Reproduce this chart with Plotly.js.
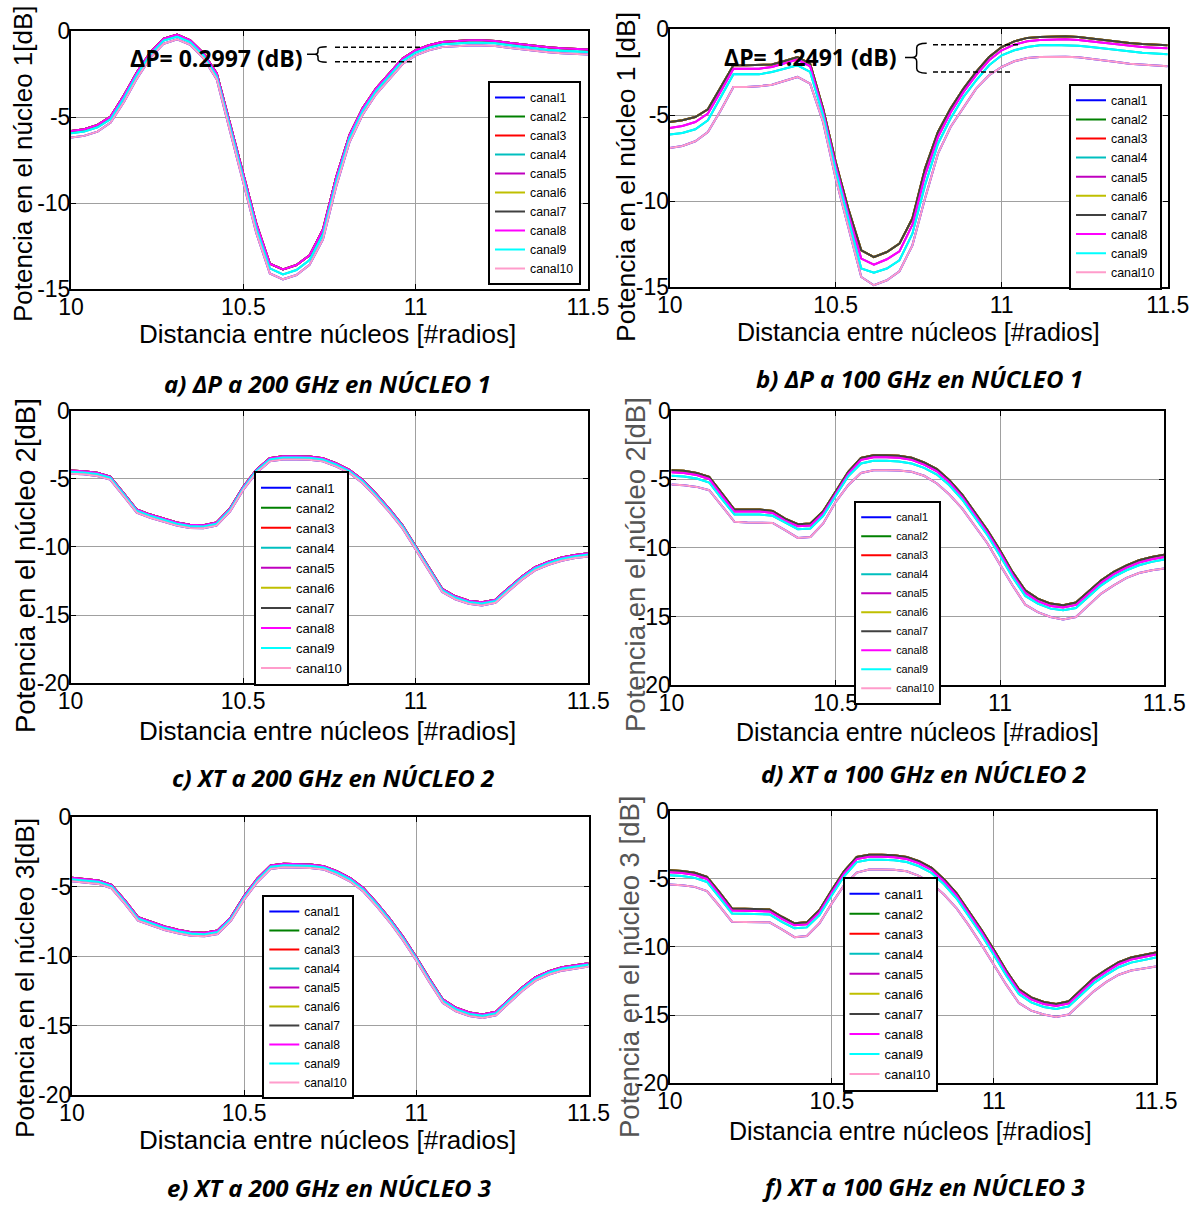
<!DOCTYPE html>
<html>
<head>
<meta charset="utf-8">
<script src="https://cdn.plot.ly/plotly-3.0.1.min.js"></script>
<style>html,body{margin:0;padding:0;background:#fff;}#g{width:1195px;height:1205px;}</style>
</head>
<body>
<div id="g"></div>
<script>
// ---------------- data ----------------
const distancia = [10.000,10.038,10.077,10.115,10.154,10.192,10.231,10.269,10.308,10.346,10.385,10.423,10.462,10.500,10.538,10.577,10.615,10.654,10.692,10.731,10.769,10.808,10.846,10.885,10.923,10.962,11.000,11.038,11.077,11.115,11.154,11.192,11.231,11.269,11.308,11.346,11.385,11.423,11.462,11.500];
const canales = ['canal1','canal2','canal3','canal4','canal5','canal6','canal7','canal8','canal9','canal10'];
// which visible curve each channel follows (curves overlap in the picture)
const grupoCanal = ['inf','sup','sup','cian','mag','sup','sup','mag','cian','inf'];

const ticksX = [10, 10.5, 11, 11.5];
const etiquetasX = ['10', '10.5', '11', '11.5'];
const ticksY15 = [0, -5, -10, -15];
const etiquetasY15 = ['0', '-5', '-10', '-15'];
const ticksY20 = [0, -5, -10, -15, -20];
const etiquetasY20 = ['0', '-5', '-10', '-15', '-20'];

// a) ΔP 200 GHz núcleo 1
const a_sup = [-5.79,-5.69,-5.44,-4.96,-3.70,-2.36,-1.20,-0.42,-0.19,-0.52,-1.29,-2.45,-5.40,-8.30,-11.20,-13.51,-13.84,-13.59,-13.03,-11.52,-8.50,-6.02,-4.48,-3.32,-2.45,-1.58,-1.10,-0.81,-0.62,-0.56,-0.52,-0.52,-0.56,-0.66,-0.75,-0.85,-0.93,-0.98,-1.02,-1.06];
const a_cian = [-5.93,-5.83,-5.58,-5.10,-3.86,-2.50,-1.33,-0.53,-0.30,-0.63,-1.42,-2.62,-5.60,-8.50,-11.45,-13.78,-14.13,-13.88,-13.30,-11.80,-8.75,-6.20,-4.63,-3.46,-2.58,-1.72,-1.23,-0.95,-0.76,-0.70,-0.66,-0.66,-0.70,-0.80,-0.90,-1.00,-1.08,-1.13,-1.17,-1.21];
const a_inf = [-6.18,-6.08,-5.83,-5.31,-4.10,-2.72,-1.52,-0.72,-0.46,-0.78,-1.58,-2.80,-5.85,-8.75,-11.75,-14.08,-14.42,-14.17,-13.58,-12.10,-9.05,-6.45,-4.85,-3.66,-2.77,-1.90,-1.40,-1.11,-0.92,-0.86,-0.83,-0.83,-0.86,-0.95,-1.04,-1.14,-1.22,-1.27,-1.31,-1.35];

// b) ΔP 100 GHz núcleo 1
const b_sup = [-5.39,-5.29,-5.10,-4.65,-3.35,-2.09,-2.09,-2.09,-2.05,-1.84,-1.61,-2.00,-4.61,-7.71,-10.43,-12.85,-13.24,-12.95,-12.46,-11.00,-8.10,-5.97,-4.61,-3.45,-2.48,-1.61,-1.03,-0.70,-0.50,-0.45,-0.41,-0.41,-0.45,-0.54,-0.64,-0.74,-0.79,-0.85,-0.89,-0.93];
const b_mag = [-5.74,-5.62,-5.39,-4.90,-3.60,-2.29,-2.29,-2.29,-2.19,-2.00,-1.76,-2.15,-4.77,-7.91,-10.72,-13.33,-13.68,-13.37,-12.91,-11.36,-8.49,-6.26,-4.84,-3.64,-2.67,-1.80,-1.22,-0.89,-0.70,-0.62,-0.58,-0.58,-0.62,-0.70,-0.79,-0.89,-0.97,-1.03,-1.07,-1.10];
const b_cian = [-6.12,-6.03,-5.81,-5.29,-3.93,-2.62,-2.62,-2.62,-2.48,-2.29,-2.09,-2.48,-5.00,-8.20,-11.00,-13.91,-14.15,-13.91,-13.43,-11.88,-9.07,-6.65,-5.19,-3.93,-2.97,-2.09,-1.51,-1.22,-1.03,-0.93,-0.91,-0.91,-0.95,-1.03,-1.12,-1.22,-1.30,-1.36,-1.41,-1.45];
const b_inf = [-6.90,-6.78,-6.51,-5.97,-4.71,-3.35,-3.35,-3.31,-3.22,-3.00,-2.77,-3.16,-5.39,-8.68,-11.59,-14.40,-14.88,-14.59,-14.07,-12.56,-9.84,-7.23,-5.68,-4.52,-3.45,-2.67,-2.19,-1.86,-1.67,-1.61,-1.59,-1.59,-1.63,-1.71,-1.80,-1.90,-2.00,-2.05,-2.11,-2.15];

// c) XT 200 GHz núcleo 2
const c_sup = [-4.40,-4.45,-4.57,-4.84,-6.05,-7.26,-7.63,-7.94,-8.21,-8.38,-8.41,-8.21,-7.19,-5.61,-4.35,-3.50,-3.36,-3.36,-3.38,-3.50,-3.87,-4.35,-5.08,-6.10,-7.19,-8.41,-9.98,-11.56,-13.07,-13.62,-13.94,-14.06,-13.87,-13.02,-12.17,-11.49,-11.08,-10.78,-10.59,-10.47];
const c_cian = [-4.49,-4.54,-4.66,-4.93,-6.14,-7.35,-7.72,-8.03,-8.30,-8.47,-8.50,-8.30,-7.28,-5.70,-4.44,-3.59,-3.45,-3.45,-3.47,-3.59,-3.96,-4.44,-5.17,-6.19,-7.28,-8.50,-10.07,-11.65,-13.16,-13.71,-14.03,-14.15,-13.96,-13.11,-12.26,-11.58,-11.17,-10.87,-10.68,-10.56];
const c_inf = [-4.63,-4.68,-4.80,-5.07,-6.28,-7.49,-7.86,-8.17,-8.44,-8.61,-8.64,-8.44,-7.42,-5.84,-4.58,-3.73,-3.59,-3.59,-3.61,-3.73,-4.10,-4.58,-5.31,-6.33,-7.42,-8.64,-10.21,-11.79,-13.30,-13.85,-14.17,-14.29,-14.10,-13.25,-12.40,-11.72,-11.31,-11.01,-10.82,-10.70];

// d) XT 100 GHz núcleo 2
const d_sup = [-4.33,-4.38,-4.53,-4.82,-6.03,-7.20,-7.20,-7.20,-7.30,-7.86,-8.27,-8.22,-7.32,-5.91,-4.45,-3.43,-3.24,-3.24,-3.28,-3.43,-3.77,-4.26,-5.06,-6.11,-7.37,-8.71,-10.17,-11.75,-13.09,-13.70,-14.06,-14.18,-13.99,-13.21,-12.36,-11.75,-11.27,-10.90,-10.66,-10.49];
const d_mag = [-4.48,-4.53,-4.68,-4.97,-6.18,-7.35,-7.35,-7.35,-7.45,-8.01,-8.42,-8.37,-7.47,-6.06,-4.60,-3.58,-3.39,-3.39,-3.43,-3.58,-3.92,-4.41,-5.21,-6.27,-7.53,-8.88,-10.34,-11.93,-13.27,-13.88,-14.24,-14.35,-14.16,-13.38,-12.53,-11.92,-11.44,-11.07,-10.83,-10.66];
const d_cian = [-4.74,-4.79,-4.94,-5.23,-6.45,-7.57,-7.57,-7.57,-7.66,-8.15,-8.64,-8.59,-7.66,-6.20,-4.77,-3.84,-3.65,-3.65,-3.70,-3.84,-4.16,-4.65,-5.43,-6.47,-7.74,-9.08,-10.58,-12.12,-13.50,-14.06,-14.43,-14.55,-14.38,-13.58,-12.73,-12.12,-11.63,-11.27,-11.02,-10.85];
const d_inf = [-5.38,-5.43,-5.55,-5.79,-6.95,-8.10,-8.15,-8.15,-8.18,-8.70,-9.27,-9.20,-8.22,-6.64,-5.43,-4.53,-4.33,-4.33,-4.35,-4.45,-4.74,-5.30,-6.11,-7.13,-8.35,-9.68,-11.22,-12.73,-14.14,-14.68,-15.04,-15.23,-15.04,-14.18,-13.33,-12.73,-12.19,-11.83,-11.63,-11.51];

// e) XT 200 GHz núcleo 3
const e_sup = [-4.36,-4.43,-4.55,-4.86,-5.99,-7.19,-7.55,-7.86,-8.10,-8.27,-8.32,-8.15,-7.19,-5.68,-4.43,-3.47,-3.35,-3.35,-3.40,-3.52,-3.88,-4.38,-5.10,-6.16,-7.31,-8.63,-10.07,-11.63,-13.11,-13.71,-14.05,-14.19,-14.00,-13.11,-12.23,-11.51,-11.07,-10.79,-10.62,-10.50];
const e_cian = [-4.46,-4.53,-4.65,-4.96,-6.09,-7.29,-7.65,-7.96,-8.20,-8.37,-8.42,-8.25,-7.29,-5.78,-4.53,-3.57,-3.45,-3.45,-3.50,-3.62,-3.98,-4.48,-5.20,-6.26,-7.41,-8.73,-10.17,-11.73,-13.21,-13.81,-14.15,-14.29,-14.10,-13.21,-12.33,-11.61,-11.17,-10.89,-10.72,-10.60];
const e_inf = [-4.61,-4.68,-4.80,-5.11,-6.24,-7.44,-7.80,-8.11,-8.35,-8.52,-8.57,-8.40,-7.44,-5.93,-4.68,-3.72,-3.60,-3.60,-3.65,-3.77,-4.13,-4.63,-5.35,-6.41,-7.56,-8.88,-10.32,-11.88,-13.36,-13.96,-14.30,-14.44,-14.25,-13.36,-12.48,-11.76,-11.32,-11.04,-10.87,-10.75];

// f) XT 100 GHz núcleo 3
const f_sup = [-4.38,-4.43,-4.57,-4.87,-6.01,-7.18,-7.20,-7.20,-7.25,-7.79,-8.27,-8.20,-7.30,-5.84,-4.45,-3.41,-3.24,-3.24,-3.28,-3.41,-3.72,-4.21,-5.04,-6.08,-7.37,-8.76,-10.22,-11.73,-13.09,-13.70,-14.04,-14.18,-13.99,-13.14,-12.29,-11.68,-11.12,-10.78,-10.58,-10.41];
const f_mag = [-4.53,-4.58,-4.72,-5.02,-6.16,-7.33,-7.35,-7.35,-7.40,-7.94,-8.42,-8.35,-7.45,-5.99,-4.60,-3.56,-3.39,-3.39,-3.43,-3.56,-3.87,-4.36,-5.19,-6.23,-7.52,-8.91,-10.37,-11.88,-13.24,-13.85,-14.19,-14.33,-14.14,-13.29,-12.44,-11.83,-11.27,-10.93,-10.73,-10.56];
const f_cian = [-4.75,-4.80,-4.94,-5.24,-6.38,-7.55,-7.57,-7.57,-7.62,-8.16,-8.64,-8.57,-7.67,-6.21,-4.82,-3.78,-3.61,-3.61,-3.65,-3.78,-4.09,-4.58,-5.41,-6.45,-7.74,-9.13,-10.59,-12.10,-13.46,-14.07,-14.41,-14.55,-14.36,-13.51,-12.66,-12.05,-11.49,-11.15,-10.95,-10.78];
const f_inf = [-5.43,-5.48,-5.60,-5.91,-7.02,-8.15,-8.17,-8.18,-8.20,-8.72,-9.29,-9.20,-8.27,-6.81,-5.47,-4.55,-4.33,-4.33,-4.35,-4.45,-4.79,-5.35,-6.16,-7.18,-8.44,-9.85,-11.31,-12.77,-14.11,-14.67,-14.96,-15.13,-14.96,-14.11,-13.26,-12.58,-12.04,-11.73,-11.56,-11.44];

const textoX = 'Distancia entre núcleos [#radios]';
const titulosY = ['Potencia en el núcleo 1[dB]', 'Potencia en el núcleo 1 [dB]', 'Potencia en el núcleo 2[dB]', 'Potencia en el núcleo 2[dB]', 'Potencia en el núcleo 3[dB]', 'Potencia en el núcleo 3 [dB]'];
const leyendas = ['a) ΔP a 200 GHz en NÚCLEO 1', 'b) ΔP a 100 GHz en NÚCLEO 1', 'c) XT a 200 GHz en NÚCLEO 2', 'd) XT a 100 GHz en NÚCLEO 2', 'e) XT a 200 GHz en NÚCLEO 3', 'f) XT a 100 GHz en NÚCLEO 3'];
const deltaP = ['ΔP= 0.2997 (dB)', 'ΔP= 1.2491 (dB)'];

// ---------------- styles / layout ----------------
const colores = ['#0000ff','#008000','#ff0000','#00bfbf','#bf00bf','#bfbf00','#404040','#ff00ff','#00ffff','#ff9ccb'];
const W = 1195, H = 1205;
const px = v => v / W, py = v => 1 - v / H;

const paneles = [
  {curvas:{sup:a_sup, mag:a_sup, cian:a_cian, inf:a_inf}, xd:[71,588], yd:[31.3,289.3], ymin:-15,
   leg:{x:581, y:81, anchor:'right', size:12.3}, xt:[327,334], yt:[23,164,26], ytc:'#000', cap:[327,383]},
  {curvas:{sup:b_sup, mag:b_mag, cian:b_cian, inf:b_inf}, xd:[669.7,1167.7], yd:[29.3,287.3], ymin:-15,
   leg:{x:1162, y:83.7, anchor:'right', size:12.4}, xt:[918,332], yt:[626,177,26.5], ytc:'#000', cap:[919,378]},
  {curvas:{sup:c_sup, mag:c_sup, cian:c_cian, inf:c_inf}, xd:[70.5,588.2], yd:[410.5,683.3], ymin:-20,
   leg:{x:301.5, y:470.7, anchor:'center', size:13.1}, xt:[327,731], yt:[25,566,27.5], ytc:'#000', cap:[333,777]},
  {curvas:{sup:d_sup, mag:d_mag, cian:d_cian, inf:d_inf}, xd:[671.4,1164.3], yd:[410.8,685], ymin:-20,
   leg:{x:897.7, y:500.7, anchor:'center', size:10.8}, xt:[917,732], yt:[635,565,27.5], ytc:'#555', cap:[923,773]},
  {curvas:{sup:e_sup, mag:e_sup, cian:e_cian, inf:e_inf}, xd:[71.9,588.6], yd:[817.2,1095.2], ymin:-20,
   leg:{x:308.3, y:895, anchor:'center', size:12.1}, xt:[327,1140], yt:[25,978,26.3], ytc:'#000', cap:[329,1187]},
  {curvas:{sup:f_sup, mag:f_mag, cian:f_cian, inf:f_inf}, xd:[669.7,1156], yd:[810.5,1083.3], ymin:-20,
   leg:{x:890, y:876.7, anchor:'center', size:13.1}, xt:[910,1131], yt:[629,967,27.5], ytc:'#555', cap:[923,1186]}
];

const fuente = 'Liberation Sans, Arial, sans-serif';
const data = [];
const layout = {
  width: W, height: H,
  margin: {l:0, r:0, t:0, b:0},
  paper_bgcolor: '#fff', plot_bgcolor: '#fff',
  font: {family: fuente, color: '#000'},
  annotations: [], shapes: []
};

paneles.forEach((p, k) => {
  const n = k + 1;
  const xa = 'x' + (n === 1 ? '' : n), ya = 'y' + (n === 1 ? '' : n);
  const legName = 'legend' + (n === 1 ? '' : n);
  canales.forEach((c, i) => {
    data.push({
      type: 'scatter', mode: 'lines', name: c,
      x: distancia, y: p.curvas[grupoCanal[i]],
      xaxis: xa, yaxis: ya, legend: legName,
      line: {color: colores[i], width: 2},
      hoverinfo: 'skip'
    });
  });
  const ejeComun = {
    ticks: 'inside', ticklen: 5, tickcolor: '#000', tickwidth: 1,
    showline: true, mirror: 'ticks', linecolor: '#000', linewidth: 2,
    showgrid: true, gridcolor: '#a0a0a0', gridwidth: 1, zeroline: false,
    tickfont: {family: fuente, size: 23, color: '#000'}, fixedrange: true
  };
  layout['xaxis' + (n === 1 ? '' : n)] = Object.assign({}, ejeComun, {
    domain: [px(p.xd[0]), px(p.xd[1])], anchor: ya, range: [10, 11.5],
    tickmode: 'array', tickvals: ticksX, ticktext: etiquetasX, ticklabelstandoff: -4
  });
  layout['yaxis' + (n === 1 ? '' : n)] = Object.assign({}, ejeComun, {
    domain: [py(p.yd[1]), py(p.yd[0])], anchor: xa, range: [p.ymin, 0],
    tickmode: 'array',
    tickvals: p.ymin === -15 ? ticksY15 : ticksY20,
    ticktext: p.ymin === -15 ? etiquetasY15 : etiquetasY20,
    ticklabelstandoff: -6
  });
  layout[legName] = {
    x: px(p.leg.x), y: py(p.leg.y), xref: 'paper', yref: 'paper',
    xanchor: p.leg.anchor, yanchor: 'top',
    bgcolor: '#fff', bordercolor: '#000', borderwidth: 2,
    font: {family: fuente, size: p.leg.size, color: '#000'},
    tracegroupgap: 0, itemwidth: 30
  };
  // axis titles
  layout.annotations.push({
    text: textoX, xref: 'paper', yref: 'paper', x: px(p.xt[0]), y: py(p.xt[1]),
    xanchor: 'center', yanchor: 'middle', showarrow: false,
    font: {family: fuente, size: k % 2 ? 25 : 26, color: '#000'}
  });
  layout.annotations.push({
    text: titulosY[k], xref: 'paper', yref: 'paper', x: px(p.yt[0]), y: py(p.yt[1]),
    xanchor: 'center', yanchor: 'middle', showarrow: false, textangle: -90,
    font: {family: fuente, size: p.yt[2], color: p.ytc}
  });
  // caption
  layout.annotations.push({
    text: '<b><i>' + leyendas[k] + '</i></b>', xref: 'paper', yref: 'paper',
    x: px(p.cap[0]), y: py(p.cap[1]), xanchor: 'center', yanchor: 'middle', showarrow: false,
    font: {family: 'Open Sans, sans-serif', size: 24, color: '#000'}
  });
});

// ΔP labels, dashed guides and braces
const guias = [
  {txt:[216,58], lines:[[335,422,47.3],[335,413,61.7]], brace:[307,54.3],
   path:'M0,0 L8,0 Q11,0 11,3 L11,5 Q11,7.6 19.7,7.6 M8,0 Q11,0 11,-3 L11,-5 Q11,-8 19.7,-8'},
  {txt:[810,57], lines:[[933,1018,44.7],[933,1011.7,72]], brace:[905,57.5],
   path:'M0,0 L7,0 Q11.7,0 11.7,4 L11.7,10 Q11.7,14.3 21.7,14.3 M7,0 Q11.7,0 11.7,-4 L11.7,-11 Q11.7,-15.7 21.7,-15.7'}
];
guias.forEach((g, k) => {
  layout.annotations.push({
    text: '<b>' + deltaP[k] + '</b>', xref: 'paper', yref: 'paper',
    x: px(g.txt[0]), y: py(g.txt[1]), xanchor: 'center', yanchor: 'middle', showarrow: false,
    font: {family: 'Open Sans, sans-serif', size: 23, color: '#000'}
  });
  g.lines.forEach(l => layout.shapes.push({
    type: 'line', xref: 'paper', yref: 'paper',
    x0: px(l[0]), x1: px(l[1]), y0: py(l[2]), y1: py(l[2]),
    line: {color: '#000', width: 1.5, dash: '5px,3px'}
  }));
  layout.shapes.push({
    type: 'path', xref: 'paper', yref: 'paper',
    xsizemode: 'pixel', ysizemode: 'pixel',
    xanchor: px(g.brace[0]), yanchor: py(g.brace[1]),
    path: g.path, line: {color: '#000', width: 1.5}
  });
});

Plotly.newPlot('g', data, layout, {staticPlot: true, displayModeBar: false});
</script>
</body>
</html>
